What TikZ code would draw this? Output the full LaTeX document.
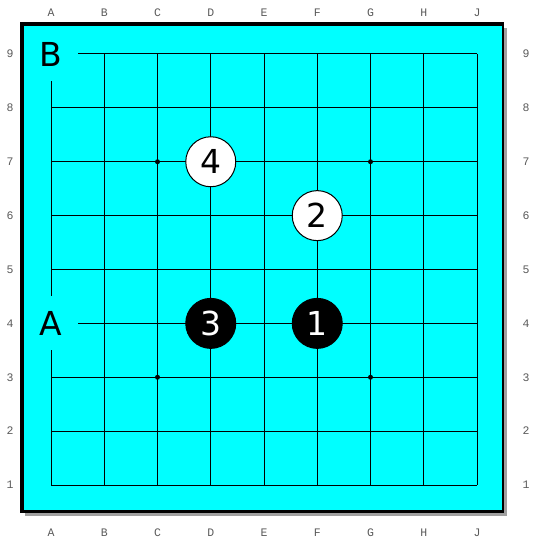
\documentclass[tikz,border=0pt]{standalone}
\usepackage{fontspec}
\newfontfamily\stonefont{DejaVu Sans}
\newfontfamily\coordfont{Liberation Mono}
\definecolor{boardcyan}{RGB}{0,255,255}
\definecolor{coordgray}{RGB}{90,90,90}
\definecolor{shadowgray}{RGB}{160,160,160}
\begin{document}
\begin{tikzpicture}[x=1pt,y=-1pt,
  gridline/.style={line width=1pt,black},
  whitestone/.style={circle,draw=black,line width=1pt,fill=white,minimum size=50pt,inner sep=0pt,font=\stonefont\fontsize{33}{33}\selectfont,text=black},
  blackstone/.style={circle,draw=black,line width=1pt,fill=black,minimum size=50pt,inner sep=0pt,font=\stonefont\fontsize{33}{33}\selectfont,text=white},
  marklabel/.style={rectangle,fill=boardcyan,minimum size=54pt,inner sep=0pt,font=\stonefont\fontsize{33}{33}\selectfont},
  coordlabel/.style={font=\coordfont\fontsize{11.5}{11.5}\selectfont,text=coordgray,inner sep=0pt},
  hoshi/.style={circle,fill=black,minimum size=5pt,inner sep=0pt}]
\useasboundingbox (0,0) rectangle (532,540);
% board
\fill[shadowgray] (25,28) rectangle (507,516);
\fill[black] (20,22) rectangle (504,513);
\fill[boardcyan] (24,26) rectangle (502,510);
% grid
\foreach \i in {0,...,8} {
  \pgfmathsetmacro{\xx}{51+53.25*\i}
  \pgfmathsetmacro{\yy}{54+53.875*\i}
  \draw[gridline] (\xx,54) -- (\xx,485);
  \draw[gridline] (51,\yy) -- (477,\yy);
}
% hoshi
\node[hoshi] (h1) at (157.5,161.75) {};
\node[hoshi] (h2) at (370.5,161.75) {};
\node[hoshi] (h3) at (157.5,377.25) {};
\node[hoshi] (h4) at (370.5,377.25) {};
% coordinates
\foreach \l [count=\i from 0] in {A,B,C,D,E,F,G,H,J} {
  \pgfmathsetmacro{\xx}{51+53.25*\i}
  \node[coordlabel] (top\l) at (\xx,13) {\l};
  \node[coordlabel] (bot\l) at (\xx,533) {\l};
}
\foreach \n [count=\i from 0] in {9,8,7,6,5,4,3,2,1} {
  \pgfmathsetmacro{\yy}{54+53.875*\i}
  \node[coordlabel] (left\n) at (10,\yy) {\n};
  \node[coordlabel] (right\n) at (526,\yy) {\n};
}
% labels
\node[marklabel] (labB) at (51,54) {B};
\node[marklabel] (labA) at (51,323.375) {A};
% stones
\node[blackstone] (s1) at (317.25,323.375) {1};
\node[whitestone] (s2) at (317.25,215.625) {2};
\node[blackstone] (s3) at (210.75,323.375) {3};
\node[whitestone] (s4) at (210.75,161.75) {4};
\end{tikzpicture}
\end{document}
